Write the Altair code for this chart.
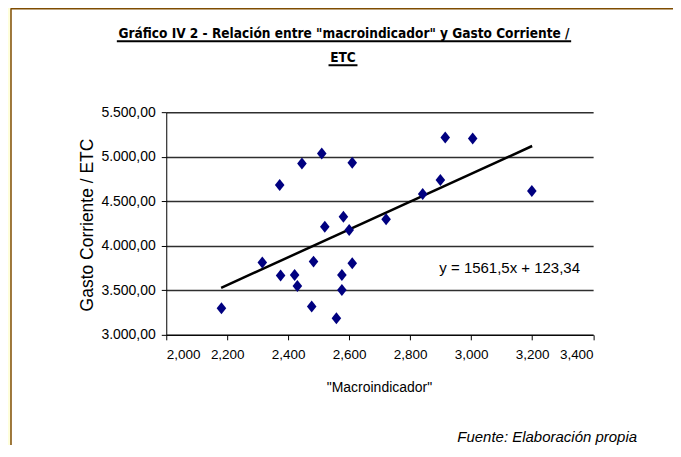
import altair as alt
import pandas as pd

# Data
macro = [2.181, 2.315, 2.372, 2.375, 2.421, 2.430, 2.445, 2.510, 2.477, 2.483, 2.520, 2.558,
         2.576, 2.576, 2.581, 2.600, 2.610, 2.610, 2.721, 2.841, 2.899, 2.915, 3.005, 3.199]
gasto = [3299, 3811, 4682, 3665, 3673, 3549, 4925, 5037, 3317, 3822, 4214, 3187,
         3673, 3504, 4326, 4177, 3804, 4932, 4297, 4581, 4738, 5216, 5205, 4614]
trend_x = [2.18, 3.20]
slope = 1561.5
intercept = 123.34
x_ticks = [2.0, 2.2, 2.4, 2.6, 2.8, 3.0, 3.2, 3.4]
y_ticks = [3000, 3500, 4000, 4500, 5000, 5500]

title_lines = ['Gráfico IV 2 - Relación entre "macroindicador" y Gasto Corriente /', "ETC"]
y_title = "Gasto Corriente / ETC"
x_title = '"Macroindicador"'
equation = "y = 1561,5x + 123,34"
source = "Fuente: Elaboración propia"

W, H = 427.5, 223
FONT = "Liberation Sans"
NARROW = "DejaVu Sans Condensed"

pts = pd.DataFrame({"x": macro, "y": gasto})
trend = pd.DataFrame({"x": trend_x})

xs = alt.Scale(domain=[2.0, 3.4], nice=False, zero=False)
ys = alt.Scale(domain=[3000, 5500], nice=False, zero=False)

one = pd.DataFrame({"a": [0]})

# page decoration: yellow strip on the left and brown frame lines
strip = alt.Chart(one).mark_rect(fill="#FFFFDC").encode(
    x=alt.value(-160), x2=alt.value(-155.5), y=alt.value(-110), y2=alt.value(600)
)
frame_left = alt.Chart(one).mark_rule(color="#7F4C00", strokeWidth=1.5).encode(
    x=alt.value(-155.5), x2=alt.value(-155.5), y=alt.value(-104), y2=alt.value(600)
)
frame_top = alt.Chart(one).mark_rule(color="#7F4C00", strokeWidth=1.5).encode(
    x=alt.value(-155.5), x2=alt.value(700), y=alt.value(-103.5), y2=alt.value(-103.5)
)

axes = alt.Chart(pts).mark_point(opacity=0).encode(
    x=alt.X("x:Q", scale=xs, axis=alt.Axis(
        values=x_ticks, title=None, grid=False, domainColor="black", domainWidth=1,
        tickColor="black", tickSize=5, labelPadding=8, labelFont=FONT, labelFontSize=13.5,
        labelColor="black",
        labelExpr="replace(format(datum.value, '.3f'), '.', ',')")),
    y=alt.Y("y:Q", scale=ys, axis=alt.Axis(
        values=y_ticks, title=None, grid=True, gridColor="#2e2e2e", gridWidth=1.5,
        domainColor="black", domainWidth=1, tickColor="black", tickSize=5, labelPadding=6,
        labelFont=FONT, labelFontSize=14, labelColor="black",
        labelExpr="replace(replace(replace(format(datum.value, ',.2f'), ',', '#'), '.', ','), '#', '.')")),
)

diamond = "M0,-1L0.8,0L0,1L-0.8,0Z"
points = alt.Chart(pts).mark_point(shape=diamond, filled=True, color="#000080", opacity=1, size=144).encode(
    x=alt.X("x:Q", scale=xs), y=alt.Y("y:Q", scale=ys)
)

line = alt.Chart(trend).transform_calculate(
    y=f"{slope} * datum.x + {intercept}"
).mark_line(color="black", strokeWidth=2.5).encode(
    x=alt.X("x:Q", scale=xs), y=alt.Y("y:Q", scale=ys)
)

def txt(s, x, y, **kw):
    return alt.Chart(pd.DataFrame({"t": [s]})).mark_text(**kw).encode(
        text="t:N", x=alt.value(x), y=alt.value(y))

t1 = txt(title_lines[0], 178, -74, font=NARROW, fontSize=13.6, fontWeight="bold",
         align="center", baseline="alphabetic", color="black")
t2 = txt(title_lines[1], 177, -50, font=NARROW, fontSize=13.6, fontWeight="bold",
         align="center", baseline="alphabetic", color="black")
u1 = alt.Chart(one).mark_rule(color="black", strokeWidth=2).encode(
    x=alt.value(-49.5), x2=alt.value(405.5), y=alt.value(-71), y2=alt.value(-71))
u2 = alt.Chart(one).mark_rule(color="black", strokeWidth=2).encode(
    x=alt.value(162.5), x2=alt.value(191.5), y=alt.value(-47), y2=alt.value(-47))

ytl = txt(y_title, -78.5, 113, font=FONT, fontSize=17.5, angle=270, align="center",
          baseline="middle", color="black")
xtl = txt(x_title, 213.5, 276, font=FONT, fontSize=14, align="center",
          baseline="middle", color="black")
eq = txt(equation, 273.5, 156, font=FONT, fontSize=15, align="left",
         baseline="middle", color="black")
src = txt(source, 471.5, 325, font=FONT, fontSize=15, fontStyle="italic", align="right",
          baseline="middle", color="black")

chart = alt.layer(axes, line, points, strip, frame_left, frame_top,
                  t1, t2, u1, u2, ytl, xtl, eq, src).properties(
    width=W, height=H,
    autosize=alt.AutoSizeParams(type="none"),
    padding={"left": 158.5, "top": 104, "right": 80, "bottom": 110},
    background="white",
).configure_view(strokeWidth=0)

chart.save("out.html", embed_options={"renderer": "svg", "actions": False})
